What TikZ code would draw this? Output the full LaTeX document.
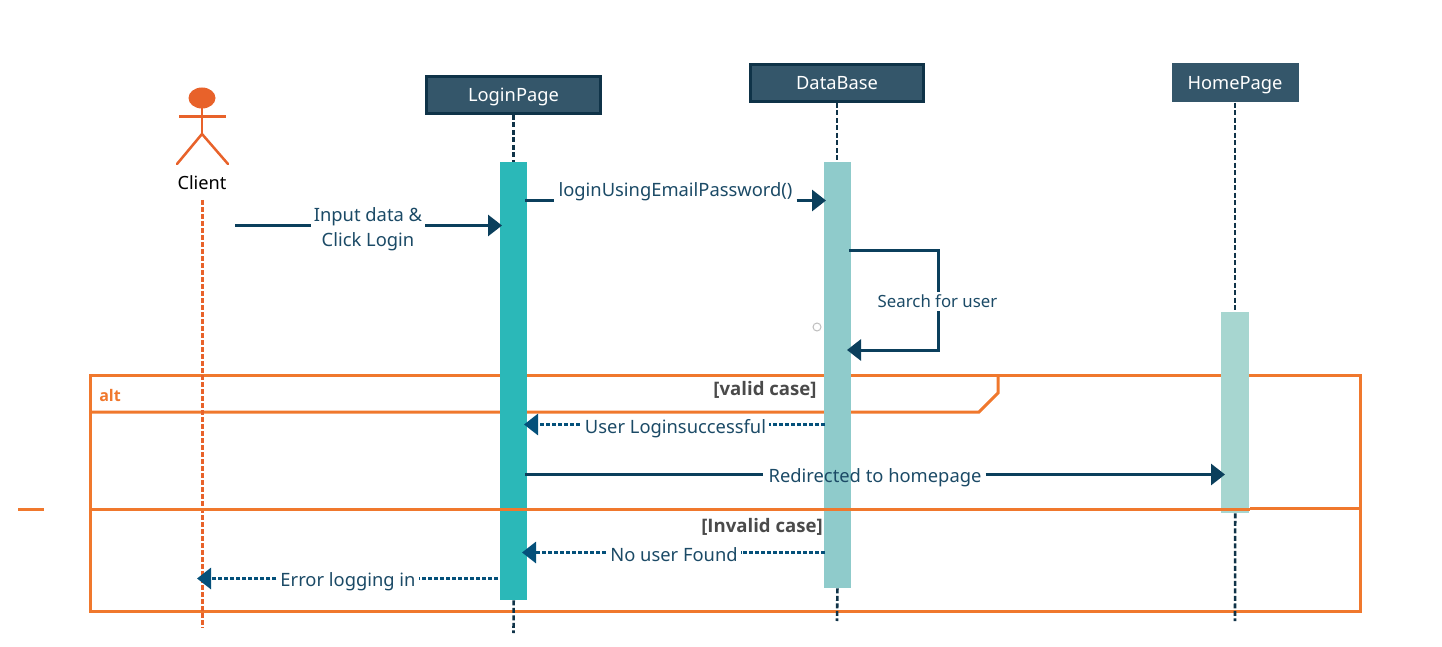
\documentclass[tikz,border=0pt]{standalone}
\usepackage{fontspec}
\setmainfont{Noto Sans}
\newfontfamily\guardfont{Open Sans}
\usetikzlibrary{arrows.meta}
\definecolor{linecol}{HTML}{0B3F5C}
\definecolor{dashcol}{HTML}{04507A}
\definecolor{txtcol}{HTML}{1B4A66}
\definecolor{headcol}{HTML}{34566A}
\definecolor{headedge}{HTML}{0F3348}
\definecolor{framecol}{HTML}{F0782D}
\definecolor{actorcol}{HTML}{E8622A}
\definecolor{barA}{HTML}{2BB8B8}
\definecolor{barB}{HTML}{8FCBCB}
\definecolor{barC}{HTML}{A7D6D0}
\definecolor{guardcol}{HTML}{4A4A4A}
\tikzset{
  x=1pt,y=-1pt,
  header/.style={fill=headcol,text=white,font=\fontsize{18.3}{20}\selectfont,inner sep=0pt,anchor=center,text height=16pt,text depth=2pt},
  lifeline/.style={draw=headedge,line width=2.6pt,dash pattern=on 5pt off 2.5pt},
  clientline/.style={draw=actorcol,line width=3pt,dash pattern=on 5pt off 2pt},
  barbox/.style={inner sep=0pt,anchor=north west},
  msg/.style={text=txtcol,font=\fontsize{18.35}{25}\selectfont,inner sep=0pt,align=center},
  solidmsg/.style={draw=linecol,line width=3pt},
  dashmsg/.style={draw=dashcol,line width=3pt,dash pattern=on 4pt off 2pt},
  tip/.style={-{Triangle[length=14pt,width=21pt]}},
  framing/.style={draw=framecol,line width=3pt},
  guard/.style={text=guardcol,font=\guardfont\bfseries\fontsize{18.6}{20}\selectfont,inner sep=0pt},
  limb/.style={draw=actorcol,line width=2.5pt},
}
\begin{document}
\begin{tikzpicture}
\useasboundingbox (0,0) rectangle (1442,647);
% lifeline anchors
\coordinate (cTop) at (202,200);
\coordinate (cBot) at (202,628);
\coordinate (lBot) at (513.5,633);
\coordinate (dBot) at (837,621);
\coordinate (hBot) at (1235,621);
% header boxes
\node[header,draw=headedge,line width=3pt,minimum width=173.5pt,minimum height=37pt] (login) at (513.5,95) {LoginPage};
\node[header,draw=headedge,line width=3pt,minimum width=173.5pt,minimum height=37pt] (db) at (837,83) {DataBase};
\node[header,minimum width=127pt,minimum height=39pt] (home) at (1235,83) {HomePage};
% actor
\fill[actorcol] (202,98) ellipse [x radius=13.5, y radius=10.5];
\coordinate (neck) at (202,108);
\coordinate (hip) at (202,134);
\draw[limb] (neck) -- (hip);
\draw[limb] (179,116.5) -- (225.5,116.5);
\draw[limb,line cap=round] (177,164) -- (hip) -- (228,164);
\node[inner sep=0pt,text=black,font=\fontsize{18.2}{20}\selectfont] (client) at (202,183) {Client};
% frame (behind the bars)
\draw[framing] (90,375) rectangle (1360,611);
\draw[framing] (90,412) -- (979,412) -- (998,393) -- (998,375);
\draw[framing] (18,509) -- (44,509);
% lifelines
\path (513.5,162) coordinate (lT) (837,162) coordinate (dT) (1235,312) coordinate (hT);
\draw[clientline] (cTop) -- (cBot);
\draw[lifeline] (login.south) -- (lT);
\draw[lifeline] (db.south) -- (dT);
\draw[lifeline] (home.south) -- (hT);
% activation bars
\node[barbox,fill=barA,minimum width=27pt,minimum height=438pt] (barL) at (500,162) {};
\node[barbox,fill=barB,minimum width=27.5pt,minimum height=426pt] (barD) at (823.5,162) {};
\node[barbox,fill=barC,minimum width=28pt,minimum height=201pt] (barH) at (1221,312) {};
\draw[lifeline] (barL.south) -- (lBot);
\draw[lifeline] (barD.south) -- (dBot);
\draw[lifeline] (barH.south) -- (hBot);
% divider over the bars
\draw[framing] (90,509) -- (1250,509);
\draw[framing] (1250,508.5) -- (1360,508.5);
% text of frame
\node[text=framecol,font=\guardfont\bfseries\fontsize{16}{18}\selectfont,inner sep=0pt] (alt) at (110,395) {alt};
\node[guard] (gv) at (765,390) {[valid case]};
\node[guard] (gi) at (762,527) {[Invalid case]};
% stray handle
\node[circle,draw=black!25,line width=1pt,fill=white,minimum size=8pt,inner sep=0pt] (hdl) at (817,327) {};
% messages
\coordinate (m1a) at (235,225.5);
\coordinate (m1b) at (502,225.5);
\node[msg] (m1) at (368,229) {Input data \&\\Click Login};
\draw[solidmsg] (m1a) -- ([xshift=-3pt]m1a -| m1.west);
\draw[solidmsg,tip] ([xshift=3pt]m1b -| m1.east) -- (m1b);

\coordinate (m2a) at (525,200.5);
\coordinate (m2b) at (826,200.5);
\node[msg] (m2) at (675.5,192) {loginUsingEmailPassword()};
\draw[solidmsg] (m2a) -- ([xshift=-4pt]m2a -| m2.west);
\draw[solidmsg,tip] ([xshift=4pt]m2a -| m2.east) -- (m2b);

\coordinate (m3a) at (849,250.5);
\coordinate (m3c) at (938,250.5);
\coordinate (m3d) at (938,350);
\coordinate (m3b) at (847,350);
\node[msg,font=\fontsize{16.8}{20}\selectfont] (m3) at (937.5,301.5) {Search for user};
\draw[solidmsg] (m3a) -- (m3c) -- ([yshift=3pt]m3c |- m3.north);
\draw[solidmsg,tip] ([yshift=-3pt]m3c |- m3.south) -- (m3d) -- (m3b);

\coordinate (m4a) at (825,424.5);
\coordinate (m4b) at (524,424.5);
\node[msg] (m4) at (675.5,428.5) {User Loginsuccessful};
\draw[dashmsg] (m4a) -- ([xshift=3pt]m4a -| m4.east);
\draw[dashmsg,tip] ([xshift=-5pt]m4a -| m4.west) -- (m4b);

\coordinate (m5a) at (525,474.5);
\coordinate (m5b) at (1225,474.5);
\node[msg] (m5) at (875,478) {Redirected to homepage};
\draw[solidmsg] (m5a) -- ([xshift=-5pt]m5a -| m5.west);
\draw[solidmsg,tip] ([xshift=4pt]m5a -| m5.east) -- (m5b);

\coordinate (m6a) at (825,552.5);
\coordinate (m6b) at (522,552.5);
\node[msg] (m6) at (674,555) {No user Found};
\draw[dashmsg] (m6a) -- ([xshift=3pt]m6a -| m6.east);
\draw[dashmsg,tip] ([xshift=-4pt]m6a -| m6.west) -- (m6b);

\coordinate (m7a) at (498,578.5);
\coordinate (m7b) at (197,578.5);
\node[msg] (m7) at (348,582) {Error logging in};
\draw[dashmsg] (m7a) -- ([xshift=3pt]m7a -| m7.east);
\draw[dashmsg,tip] ([xshift=-4pt]m7a -| m7.west) -- (m7b);
\end{tikzpicture}
\end{document}
